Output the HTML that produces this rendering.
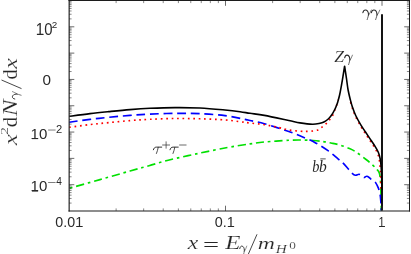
<!DOCTYPE html>
<html><head><meta charset="utf-8"><title>chart</title>
<style>html,body{margin:0;padding:0;background:#fff;overflow:hidden}svg{display:block}</style></head>
<body>
<svg width="411" height="254" viewBox="0 0 411 254">
<rect width="411" height="254" fill="#fff"/>
<g fill="none" stroke-linejoin="round">
<path d="M69.30,188.30 C74.42,186.85 89.88,182.48 100.00,179.60 C110.12,176.72 121.83,173.32 130.00,171.00 C138.17,168.68 142.47,167.53 149.00,165.70 C155.53,163.87 160.97,162.05 169.20,160.00 C177.43,157.95 188.67,155.48 198.40,153.40 C208.13,151.32 219.00,149.08 227.60,147.50 C236.20,145.92 243.87,144.82 250.00,143.90 C256.13,142.98 257.93,142.60 264.40,142.00 C270.87,141.40 282.87,140.63 288.80,140.30 C294.73,139.97 295.97,139.97 300.00,140.00 C304.03,140.03 309.17,140.23 313.00,140.50 C316.83,140.77 320.00,141.18 323.00,141.60 C326.00,142.02 328.23,142.45 331.00,143.00 C333.77,143.55 336.52,143.97 339.60,144.90 C342.68,145.83 346.68,147.37 349.50,148.60 C352.32,149.83 353.68,150.44 356.50,152.30 C359.32,154.16 363.82,157.72 366.40,159.75 C368.98,161.78 370.32,162.96 372.00,164.50 C373.68,166.04 375.28,167.58 376.50,169.00 C377.72,170.42 378.63,170.90 379.30,173.00 C379.97,175.10 380.22,177.93 380.50,181.60 C380.78,185.27 380.87,190.18 381.00,195.00 C381.13,199.82 381.25,207.92 381.30,210.50" stroke="#00e000" stroke-width="1.65" stroke-dasharray="8.2 3.85 2.6 3.85" stroke-dashoffset="11.3"/>
<path d="M69.30,122.20 C72.75,121.73 83.42,120.20 90.00,119.39 C96.58,118.57 102.13,117.97 108.80,117.31 C115.47,116.64 123.13,115.93 130.00,115.40 C136.87,114.87 142.50,114.43 150.00,114.10 C157.50,113.77 166.67,113.47 175.00,113.40 C183.33,113.33 191.67,113.33 200.00,113.70 C208.33,114.07 217.50,114.65 225.00,115.60 C232.50,116.55 240.83,118.58 245.00,119.40 C249.17,120.22 246.77,119.78 250.00,120.50 C253.23,121.22 257.93,121.87 264.40,123.70 C270.87,125.53 282.88,129.48 288.80,131.50 C294.72,133.52 295.57,133.98 299.90,135.80 C304.23,137.62 310.12,139.92 314.80,142.40 C319.48,144.88 324.13,147.95 328.00,150.70 C331.87,153.45 335.47,156.82 338.00,158.90 C340.53,160.98 341.55,161.60 343.20,163.20 C344.85,164.80 346.45,166.87 347.90,168.50 C349.35,170.13 350.65,171.88 351.90,173.00 C353.15,174.12 354.23,174.98 355.40,175.20 C356.57,175.42 357.88,174.28 358.90,174.30 C359.92,174.32 360.65,174.77 361.50,175.30 C362.35,175.83 363.37,177.25 364.00,177.50 C364.63,177.75 364.83,177.00 365.30,176.80 C365.77,176.60 366.22,176.23 366.80,176.30 C367.38,176.37 368.12,176.73 368.80,177.20 C369.48,177.67 370.12,178.48 370.90,179.10 C371.68,179.72 372.72,180.32 373.50,180.90 C374.28,181.48 374.80,181.43 375.60,182.60 C376.40,183.77 377.57,186.00 378.30,187.90 C379.03,189.80 379.58,191.82 380.00,194.00 C380.42,196.18 380.60,198.25 380.80,201.00 C381.00,203.75 381.13,208.92 381.20,210.50" stroke="#0000ff" stroke-width="1.65" stroke-dasharray="8.9 4.7" stroke-dashoffset="0.5"/>
<path d="M69.30,127.30 C72.75,126.84 83.42,125.37 90.00,124.59 C96.58,123.81 102.13,123.27 108.80,122.61 C115.47,121.94 123.13,121.15 130.00,120.60 C136.87,120.05 142.50,119.65 150.00,119.30 C157.50,118.95 166.67,118.58 175.00,118.50 C183.33,118.42 191.67,118.57 200.00,118.80 C208.33,119.03 218.33,119.42 225.00,119.90 C231.67,120.38 235.83,121.18 240.00,121.70 C244.17,122.22 245.93,122.50 250.00,123.00 C254.07,123.50 259.57,123.93 264.40,124.70 C269.23,125.47 274.90,126.72 279.00,127.60 C283.10,128.48 285.50,129.40 289.00,130.00 C292.50,130.60 297.17,130.97 300.00,131.20 C302.83,131.43 303.83,131.43 306.00,131.40 C308.17,131.37 311.00,131.25 313.00,131.00 C315.00,130.75 316.50,130.53 318.00,129.90 C319.50,129.27 320.60,128.28 322.00,127.20 C323.40,126.12 325.07,124.72 326.40,123.40 C327.73,122.08 328.85,120.82 330.00,119.30 C331.15,117.78 332.42,116.10 333.30,114.30 C334.18,112.50 334.68,110.20 335.30,108.50 C335.92,106.80 336.48,105.55 337.00,104.10 C337.52,102.65 338.17,100.52 338.40,99.80" stroke="#ff0000" stroke-width="1.65" stroke-dasharray="1.7 3.71" />
<path d="M350.10,100.30 C350.43,101.47 351.24,104.72 352.10,107.30 C352.96,109.88 353.87,112.73 355.25,115.80 C356.62,118.87 358.81,122.95 360.37,125.70 C361.93,128.45 363.19,130.13 364.58,132.30 C365.98,134.47 367.31,136.53 368.75,138.70 C370.19,140.87 371.77,142.98 373.20,145.30 C374.62,147.62 376.30,150.28 377.30,152.60 C378.30,154.92 378.73,156.85 379.20,159.20 C379.67,161.55 379.87,164.02 380.10,166.70 C380.33,169.38 380.45,171.37 380.60,175.30 C380.75,179.23 380.93,187.80 381.00,190.30" stroke="#ff0000" stroke-width="1.65" stroke-dasharray="1.7 3.71" stroke-dashoffset="-2"/>
<path d="M69.30,116.30 C72.75,115.84 83.42,114.37 90.00,113.59 C96.58,112.81 102.13,112.27 108.80,111.61 C115.47,110.94 123.13,110.15 130.00,109.60 C136.87,109.05 142.50,108.63 150.00,108.30 C157.50,107.97 166.67,107.65 175.00,107.60 C183.33,107.55 191.67,107.60 200.00,108.00 C208.33,108.40 218.33,109.38 225.00,110.00 C231.67,110.62 235.83,111.15 240.00,111.70 C244.17,112.25 245.93,112.68 250.00,113.30 C254.07,113.92 257.93,114.20 264.40,115.40 C270.87,116.60 282.87,119.25 288.80,120.50 C294.73,121.75 296.05,122.28 300.00,122.90 C303.95,123.53 309.17,124.18 312.50,124.25 C315.83,124.32 318.10,123.67 320.00,123.30 C321.90,122.92 322.73,122.55 323.90,122.00 C325.07,121.45 325.97,120.85 327.00,120.00 C328.03,119.15 329.15,118.02 330.10,116.90 C331.05,115.78 331.88,114.62 332.70,113.30 C333.52,111.98 334.35,110.35 335.00,109.00 C335.65,107.65 336.12,106.47 336.60,105.20 C337.08,103.93 337.40,103.10 337.90,101.40 C338.40,99.70 338.98,97.82 339.60,95.00 C340.22,92.18 341.00,87.83 341.60,84.50 C342.20,81.17 342.70,78.05 343.20,75.00 C343.70,71.95 344.37,67.67 344.60,66.20 L344.60,66.20 C344.90,68.17 345.82,74.03 346.40,78.00 C346.98,81.97 347.43,86.33 348.10,90.00 C348.77,93.67 349.68,97.17 350.40,100.00 C351.12,102.83 351.52,104.42 352.40,107.00 C353.28,109.58 354.25,112.43 355.70,115.50 C357.15,118.57 359.47,122.65 361.10,125.40 C362.73,128.15 364.06,129.83 365.50,132.00 C366.94,134.17 368.30,136.23 369.75,138.40 C371.20,140.57 372.77,142.68 374.20,145.00 C375.62,147.32 377.30,149.98 378.30,152.30 C379.30,154.62 379.73,156.55 380.20,158.90 C380.67,161.25 380.87,163.72 381.10,166.40 C381.33,169.08 381.45,171.07 381.60,175.00 C381.75,178.93 381.93,187.50 382.00,190.00" stroke="#000" stroke-width="1.6"/>
<path d="M382.0,14.2 V210.5" stroke="#000" stroke-width="1.85"/>
</g>
<g stroke="#3a3a3a" stroke-width="0.75" fill="none"><path d="M69.00,203.08 h2.6 M409.50,203.08 h-2.6" stroke-opacity="0.8"/>
<path d="M69.00,198.45 h2.6 M409.50,198.45 h-2.6" stroke-opacity="0.8"/>
<path d="M69.00,195.16 h2.6 M409.50,195.16 h-2.6" stroke-opacity="0.8"/>
<path d="M69.00,192.61 h2.6 M409.50,192.61 h-2.6" stroke-opacity="0.8"/>
<path d="M69.00,190.52 h2.6 M409.50,190.52 h-2.6" stroke-opacity="0.8"/>
<path d="M69.00,188.76 h2.6 M409.50,188.76 h-2.6" stroke-opacity="0.8"/>
<path d="M69.00,187.24 h2.6 M409.50,187.24 h-2.6" stroke-opacity="0.8"/>
<path d="M69.00,185.89 h2.6 M409.50,185.89 h-2.6" stroke-opacity="0.8"/>
<path d="M69.00,184.69 h5.3 M409.50,184.69 h-5.3"/>
<path d="M69.00,176.77 h2.6 M409.50,176.77 h-2.6" stroke-opacity="0.8"/>
<path d="M69.00,172.13 h2.6 M409.50,172.13 h-2.6" stroke-opacity="0.8"/>
<path d="M69.00,168.85 h2.6 M409.50,168.85 h-2.6" stroke-opacity="0.8"/>
<path d="M69.00,166.30 h2.6 M409.50,166.30 h-2.6" stroke-opacity="0.8"/>
<path d="M69.00,164.21 h2.6 M409.50,164.21 h-2.6" stroke-opacity="0.8"/>
<path d="M69.00,162.45 h2.6 M409.50,162.45 h-2.6" stroke-opacity="0.8"/>
<path d="M69.00,160.92 h2.6 M409.50,160.92 h-2.6" stroke-opacity="0.8"/>
<path d="M69.00,159.58 h2.6 M409.50,159.58 h-2.6" stroke-opacity="0.8"/>
<path d="M69.00,158.38 h5.3 M409.50,158.38 h-5.3"/>
<path d="M69.00,150.45 h2.6 M409.50,150.45 h-2.6" stroke-opacity="0.8"/>
<path d="M69.00,145.82 h2.6 M409.50,145.82 h-2.6" stroke-opacity="0.8"/>
<path d="M69.00,142.53 h2.6 M409.50,142.53 h-2.6" stroke-opacity="0.8"/>
<path d="M69.00,139.98 h2.6 M409.50,139.98 h-2.6" stroke-opacity="0.8"/>
<path d="M69.00,137.90 h2.6 M409.50,137.90 h-2.6" stroke-opacity="0.8"/>
<path d="M69.00,136.14 h2.6 M409.50,136.14 h-2.6" stroke-opacity="0.8"/>
<path d="M69.00,134.61 h2.6 M409.50,134.61 h-2.6" stroke-opacity="0.8"/>
<path d="M69.00,133.27 h2.6 M409.50,133.27 h-2.6" stroke-opacity="0.8"/>
<path d="M69.00,132.06 h5.3 M409.50,132.06 h-5.3"/>
<path d="M69.00,124.14 h2.6 M409.50,124.14 h-2.6" stroke-opacity="0.8"/>
<path d="M69.00,119.51 h2.6 M409.50,119.51 h-2.6" stroke-opacity="0.8"/>
<path d="M69.00,116.22 h2.6 M409.50,116.22 h-2.6" stroke-opacity="0.8"/>
<path d="M69.00,113.67 h2.6 M409.50,113.67 h-2.6" stroke-opacity="0.8"/>
<path d="M69.00,111.59 h2.6 M409.50,111.59 h-2.6" stroke-opacity="0.8"/>
<path d="M69.00,109.83 h2.6 M409.50,109.83 h-2.6" stroke-opacity="0.8"/>
<path d="M69.00,108.30 h2.6 M409.50,108.30 h-2.6" stroke-opacity="0.8"/>
<path d="M69.00,106.95 h2.6 M409.50,106.95 h-2.6" stroke-opacity="0.8"/>
<path d="M69.00,105.75 h5.3 M409.50,105.75 h-5.3"/>
<path d="M69.00,97.83 h2.6 M409.50,97.83 h-2.6" stroke-opacity="0.8"/>
<path d="M69.00,93.20 h2.6 M409.50,93.20 h-2.6" stroke-opacity="0.8"/>
<path d="M69.00,89.91 h2.6 M409.50,89.91 h-2.6" stroke-opacity="0.8"/>
<path d="M69.00,87.36 h2.6 M409.50,87.36 h-2.6" stroke-opacity="0.8"/>
<path d="M69.00,85.27 h2.6 M409.50,85.27 h-2.6" stroke-opacity="0.8"/>
<path d="M69.00,83.51 h2.6 M409.50,83.51 h-2.6" stroke-opacity="0.8"/>
<path d="M69.00,81.99 h2.6 M409.50,81.99 h-2.6" stroke-opacity="0.8"/>
<path d="M69.00,80.64 h2.6 M409.50,80.64 h-2.6" stroke-opacity="0.8"/>
<path d="M69.00,79.44 h5.3 M409.50,79.44 h-5.3"/>
<path d="M69.00,71.52 h2.6 M409.50,71.52 h-2.6" stroke-opacity="0.8"/>
<path d="M69.00,66.88 h2.6 M409.50,66.88 h-2.6" stroke-opacity="0.8"/>
<path d="M69.00,63.60 h2.6 M409.50,63.60 h-2.6" stroke-opacity="0.8"/>
<path d="M69.00,61.05 h2.6 M409.50,61.05 h-2.6" stroke-opacity="0.8"/>
<path d="M69.00,58.96 h2.6 M409.50,58.96 h-2.6" stroke-opacity="0.8"/>
<path d="M69.00,57.20 h2.6 M409.50,57.20 h-2.6" stroke-opacity="0.8"/>
<path d="M69.00,55.67 h2.6 M409.50,55.67 h-2.6" stroke-opacity="0.8"/>
<path d="M69.00,54.33 h2.6 M409.50,54.33 h-2.6" stroke-opacity="0.8"/>
<path d="M69.00,53.12 h5.3 M409.50,53.12 h-5.3"/>
<path d="M69.00,45.20 h2.6 M409.50,45.20 h-2.6" stroke-opacity="0.8"/>
<path d="M69.00,40.57 h2.6 M409.50,40.57 h-2.6" stroke-opacity="0.8"/>
<path d="M69.00,37.28 h2.6 M409.50,37.28 h-2.6" stroke-opacity="0.8"/>
<path d="M69.00,34.73 h2.6 M409.50,34.73 h-2.6" stroke-opacity="0.8"/>
<path d="M69.00,32.65 h2.6 M409.50,32.65 h-2.6" stroke-opacity="0.8"/>
<path d="M69.00,30.89 h2.6 M409.50,30.89 h-2.6" stroke-opacity="0.8"/>
<path d="M69.00,29.36 h2.6 M409.50,29.36 h-2.6" stroke-opacity="0.8"/>
<path d="M69.00,28.02 h2.6 M409.50,28.02 h-2.6" stroke-opacity="0.8"/>
<path d="M69.00,26.81 h5.3 M409.50,26.81 h-5.3"/>
<path d="M69.00,18.89 h2.6 M409.50,18.89 h-2.6" stroke-opacity="0.8"/>
<path d="M69.00,14.26 h2.6 M409.50,14.26 h-2.6" stroke-opacity="0.8"/>
<path d="M69.00,10.97 h2.6 M409.50,10.97 h-2.6" stroke-opacity="0.8"/>
<path d="M69.00,8.42 h2.6 M409.50,8.42 h-2.6" stroke-opacity="0.8"/>
<path d="M69.00,6.34 h2.6 M409.50,6.34 h-2.6" stroke-opacity="0.8"/>
<path d="M69.00,4.58 h2.6 M409.50,4.58 h-2.6" stroke-opacity="0.8"/>
<path d="M69.00,3.05 h2.6 M409.50,3.05 h-2.6" stroke-opacity="0.8"/>
<path d="M69.00,1.70 h2.6 M409.50,1.70 h-2.6" stroke-opacity="0.8"/>
<path d="M116.11,211.00 v-2.6 M116.11,0.50 v2.6" stroke-opacity="0.8"/>
<path d="M143.67,211.00 v-2.6 M143.67,0.50 v2.6" stroke-opacity="0.8"/>
<path d="M163.22,211.00 v-2.6 M163.22,0.50 v2.6" stroke-opacity="0.8"/>
<path d="M178.39,211.00 v-2.6 M178.39,0.50 v2.6" stroke-opacity="0.8"/>
<path d="M190.78,211.00 v-2.6 M190.78,0.50 v2.6" stroke-opacity="0.8"/>
<path d="M201.26,211.00 v-2.6 M201.26,0.50 v2.6" stroke-opacity="0.8"/>
<path d="M210.33,211.00 v-2.6 M210.33,0.50 v2.6" stroke-opacity="0.8"/>
<path d="M218.34,211.00 v-2.6 M218.34,0.50 v2.6" stroke-opacity="0.8"/>
<path d="M225.50,211.00 v-5.3 M225.50,0.50 v5.3"/>
<path d="M272.61,211.00 v-2.6 M272.61,0.50 v2.6" stroke-opacity="0.8"/>
<path d="M300.17,211.00 v-2.6 M300.17,0.50 v2.6" stroke-opacity="0.8"/>
<path d="M319.72,211.00 v-2.6 M319.72,0.50 v2.6" stroke-opacity="0.8"/>
<path d="M334.89,211.00 v-2.6 M334.89,0.50 v2.6" stroke-opacity="0.8"/>
<path d="M347.28,211.00 v-2.6 M347.28,0.50 v2.6" stroke-opacity="0.8"/>
<path d="M357.76,211.00 v-2.6 M357.76,0.50 v2.6" stroke-opacity="0.8"/>
<path d="M366.83,211.00 v-2.6 M366.83,0.50 v2.6" stroke-opacity="0.8"/>
<path d="M374.84,211.00 v-2.6 M374.84,0.50 v2.6" stroke-opacity="0.8"/>
<path d="M382.00,211.00 v-5.3 M382.00,0.50 v5.3"/></g>
<g stroke="#1c1c1c" fill="none" stroke-linecap="square"><path d="M69.15,0.50 V211.00" stroke-width="1.15"/><path d="M69.00,211.00 H409.50" stroke-width="1.05"/><path d="M409.50,0.50 V211.00" stroke-width="1.05"/><path d="M69.00,0.50 H409.50" stroke-width="1.05"/></g>
<g opacity="0.999" fill="#2a2a2a"><text vector-effect="non-scaling-stroke" transform="translate(35.86,34.85) scale(0.1494,0.1582)" font-size="100" font-family="Liberation Sans" font-style="normal">10</text>
<text vector-effect="non-scaling-stroke" transform="translate(51.80,27.90) scale(0.0988,0.0988)" font-size="100" font-family="Liberation Sans" font-style="normal">2</text>
<text vector-effect="non-scaling-stroke" transform="translate(42.40,85.16) scale(0.1527,0.1483)" font-size="100" font-family="Liberation Sans" font-style="normal">0</text>
<text vector-effect="non-scaling-stroke" transform="translate(30.55,138.95) scale(0.1504,0.1540)" font-size="100" font-family="Liberation Sans" font-style="normal">10</text>
<rect x="48.1" y="129.65" width="7.5" height="0.75" fill="#555"/>
<text vector-effect="non-scaling-stroke" transform="translate(56.04,132.90) scale(0.1119,0.1131)" font-size="100" font-family="Liberation Sans" font-style="normal">2</text>
<text vector-effect="non-scaling-stroke" transform="translate(30.55,191.45) scale(0.1504,0.1540)" font-size="100" font-family="Liberation Sans" font-style="normal">10</text>
<rect x="48.1" y="182.15" width="7.5" height="0.75" fill="#555"/>
<text vector-effect="non-scaling-stroke" transform="translate(56.37,185.40) scale(0.1012,0.1148)" font-size="100" font-family="Liberation Sans" font-style="normal">4</text>
<text vector-effect="non-scaling-stroke" transform="translate(55.34,226.86) scale(0.1426,0.1441)" font-size="100" font-family="Liberation Sans" font-style="normal">0.01</text>
<text vector-effect="non-scaling-stroke" transform="translate(214.84,226.86) scale(0.1436,0.1441)" font-size="100" font-family="Liberation Sans" font-style="normal">0.1</text>
<text vector-effect="non-scaling-stroke" transform="translate(378.55,227.00) scale(0.1113,0.1483)" font-size="100" font-family="Liberation Sans" font-style="normal">1</text>
<rect x="37.30" y="34.05" width="6.10" height="0.95"/>
<rect x="31.90" y="138.15" width="6.20" height="0.95"/>
<rect x="31.90" y="190.65" width="6.20" height="0.95"/>
<rect x="76.60" y="226.05" width="5.80" height="0.95"/>
<rect x="228.30" y="226.05" width="5.80" height="0.95"/>
<rect x="379.20" y="226.05" width="5.80" height="0.95"/></g>
<g opacity="0.999" fill="#262626" stroke="#fff" stroke-width="0.18" style="vector-effect:non-scaling-stroke"><text vector-effect="non-scaling-stroke" transform="translate(334.19,61.80) scale(0.1756,0.1665)" font-size="100" font-family="Liberation Serif" font-style="italic">Z</text>
<g fill="none" stroke="#262626" stroke-linecap="round"><path d="M344.66,57.77 C345.07,55.96 345.89,55.15 346.96,55.15 C348.60,55.15 349.67,56.96 349.83,59.27" stroke-width="1.06"/><path d="M349.83,59.27 C349.91,60.98 349.09,62.79 348.60,64.60" stroke-width="0.72"/><path d="M352.45,55.15 C351.88,56.96 350.90,58.77 349.67,60.78" stroke-width="0.59"/></g>
<g fill="none" stroke="#262626" stroke-linecap="round"><path d="M362.88,12.66 C363.32,10.82 364.21,10.01 365.37,10.01 C367.15,10.01 368.31,11.84 368.49,14.19" stroke-width="1.06"/><path d="M368.49,14.19 C368.57,15.92 367.68,17.76 367.15,19.60" stroke-width="0.72"/><path d="M371.33,10.01 C370.71,11.84 369.64,13.68 368.31,15.72" stroke-width="0.59"/></g>
<g fill="none" stroke="#262626" stroke-linecap="round"><path d="M371.38,12.66 C371.82,10.82 372.71,10.01 373.87,10.01 C375.65,10.01 376.81,11.84 376.99,14.19" stroke-width="1.06"/><path d="M376.99,14.19 C377.07,15.92 376.18,17.76 375.65,19.60" stroke-width="0.72"/><path d="M379.83,10.01 C379.21,11.84 378.14,13.68 376.81,15.72" stroke-width="0.59"/></g>
<text stroke="none" vector-effect="non-scaling-stroke" transform="translate(312.17,172.24) scale(0.1433,0.1634)" font-size="100" font-family="Liberation Serif" font-style="italic">b</text>
<text stroke="none" vector-effect="non-scaling-stroke" transform="translate(318.93,172.24) scale(0.1549,0.1634)" font-size="100" font-family="Liberation Serif" font-style="italic">b</text>
<path d="M320.3,158.9 H325.7" stroke="#262626" stroke-width="0.8"/>
<g fill="none" stroke="#262626" stroke-linecap="round"><path d="M153.40,149.76 C153.82,148.22 154.66,147.13 156.42,147.13 L161.72,147.13" stroke-width="0.94"/><path d="M158.27,147.28 C157.85,149.69 157.01,151.88 156.42,153.48" stroke-width="0.81"/></g>
<path d="M162.2,145.0 H170.0 M166.1,141.4 V148.6 M179.2,145.0 H186.5" fill="none" stroke="#3a3a3a" stroke-width="0.75"/>
<g fill="none" stroke="#262626" stroke-linecap="round"><path d="M170.00,149.76 C170.41,148.22 171.25,147.13 172.99,147.13 L178.22,147.13" stroke-width="0.94"/><path d="M174.81,147.28 C174.40,149.69 173.57,151.88 172.99,153.48" stroke-width="0.81"/></g>
<text vector-effect="non-scaling-stroke" transform="translate(187.69,248.60) scale(0.2362,0.1808)" font-size="100" font-family="Liberation Serif" font-style="italic">x</text>
<text vector-effect="non-scaling-stroke" transform="translate(202.83,251.06) scale(0.2944,0.1960)" font-size="100" font-family="Liberation Serif" font-style="normal">=</text>
<text vector-effect="non-scaling-stroke" transform="translate(225.19,248.60) scale(0.2490,0.1940)" font-size="100" font-family="Liberation Serif" font-style="italic">E</text>
<g fill="none" stroke="#262626" stroke-linecap="round"><path d="M239.75,248.64 C240.12,246.88 240.86,246.09 241.82,246.09 C243.30,246.09 244.26,247.86 244.41,250.11" stroke-width="0.90"/><path d="M244.41,250.11 C244.48,251.78 243.74,253.54 243.30,255.30" stroke-width="0.61"/><path d="M246.78,246.09 C246.26,247.86 245.37,249.62 244.26,251.58" stroke-width="0.50"/></g>
<path d="M248.3,254.2 L257.0,234.3" stroke="#262626" stroke-width="0.85"/>
<text vector-effect="non-scaling-stroke" transform="translate(257.84,248.60) scale(0.2376,0.1761)" font-size="100" font-family="Liberation Serif" font-style="italic">m</text>
<text vector-effect="non-scaling-stroke" transform="translate(275.76,252.60) scale(0.1530,0.1252)" font-size="100" font-family="Liberation Serif" font-style="italic">H</text>
<text vector-effect="non-scaling-stroke" transform="translate(289.30,249.31) scale(0.1321,0.0948)" font-size="100" font-family="Liberation Serif" font-style="normal">0</text>
<g transform="translate(0,254) rotate(-90)">
<text vector-effect="non-scaling-stroke" transform="translate(108.71,17.40) scale(0.2541,0.1830)" font-size="100" font-family="Liberation Serif" font-style="italic">x</text>
<text vector-effect="non-scaling-stroke" transform="translate(119.10,7.60) scale(0.1596,0.0997)" font-size="100" font-family="Liberation Serif" font-style="normal">2</text>
<text vector-effect="non-scaling-stroke" transform="translate(126.85,17.30) scale(0.2081,0.2032)" font-size="100" font-family="Liberation Serif" font-style="normal">d</text>
<text vector-effect="non-scaling-stroke" transform="translate(137.68,17.40) scale(0.2511,0.2046)" font-size="100" font-family="Liberation Serif" font-style="italic">N</text>
<g fill="none" stroke="#262626" stroke-linecap="round"><path d="M154.96,14.79 C155.35,13.12 156.14,12.37 157.17,12.37 C158.75,12.37 159.78,14.05 159.94,16.19" stroke-width="0.90"/><path d="M159.94,16.19 C160.01,17.77 159.22,19.44 158.75,21.11" stroke-width="0.61"/><path d="M162.46,12.37 C161.91,14.05 160.96,15.72 159.78,17.58" stroke-width="0.50"/></g>
<path d="M165.4,21.5 L174.0,1.5" stroke="#262626" stroke-width="0.85"/>
<text vector-effect="non-scaling-stroke" transform="translate(174.46,17.30) scale(0.2037,0.2032)" font-size="100" font-family="Liberation Serif" font-style="normal">d</text>
<text vector-effect="non-scaling-stroke" transform="translate(185.29,17.40) scale(0.2385,0.1830)" font-size="100" font-family="Liberation Serif" font-style="italic">x</text>
</g></g>
</svg>
</body></html>
